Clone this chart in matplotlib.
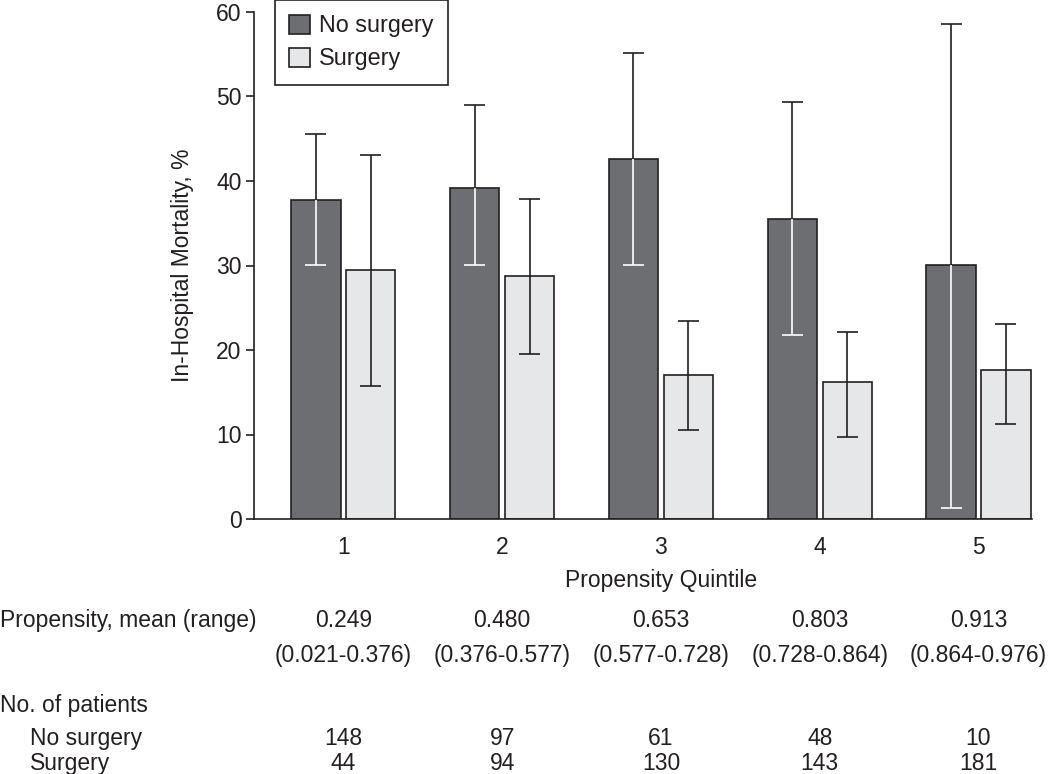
import matplotlib
matplotlib.use("Agg")
import matplotlib.pyplot as plt
import matplotlib.transforms as mtransforms
import numpy as np

plt.rcParams['font.family'] = ['Liberation Sans', 'DejaVu Sans']

# datos
quintiles = ["1", "2", "3", "4", "5"]
no_surg_mean = [37.8, 39.2, 42.6, 35.5, 30.1]
no_surg_low = [30.1, 30.1, 30.1, 21.8, 1.3]
no_surg_high = [45.6, 49.0, 55.2, 49.3, 58.6]
surg_mean = [29.5, 28.7, 17.0, 16.2, 17.6]
surg_low = [15.7, 19.5, 10.5, 9.7, 11.2]
surg_high = [43.1, 37.9, 23.4, 22.1, 23.1]

prop_mean = ["0.249", "0.480", "0.653", "0.803", "0.913"]
prop_range = ["(0.021-0.376)", "(0.376-0.577)", "(0.577-0.728)", "(0.728-0.864)", "(0.864-0.976)"]
n_no_surg = ["148", "97", "61", "48", "10"]
n_surg = ["44", "94", "130", "143", "181"]

dark = "#6d6e71"
light = "#e6e7e8"
ink = "#231f20"
fs = 16.5

fig = plt.figure(figsize=(10.5, 7.74), dpi=100)
ax = fig.add_axes([254 / 1050, 1 - 519 / 774, (1032 - 254) / 1050, (519 - 12) / 774])

x = np.arange(1, len(quintiles) + 1)
off = 0.173
w = 0.31
cap = 0.066
lw = 1.2

b1 = ax.bar(x - off, no_surg_mean, w, color=dark, edgecolor=ink, linewidth=lw, label="No surgery", zorder=2)
b2 = ax.bar(x + off, surg_mean, w, color=light, edgecolor=ink, linewidth=lw, label="Surgery", zorder=2)

# barras de error: parte dentro de la barra oscura en blanco
xs = x - off
ax.vlines(xs, no_surg_mean, no_surg_high, color=ink, lw=lw, zorder=3)
ax.hlines(no_surg_high, xs - cap, xs + cap, color=ink, lw=lw, zorder=3)
ax.vlines(xs, no_surg_low, no_surg_mean, color="white", lw=lw, zorder=3)
ax.hlines(no_surg_low, xs - cap, xs + cap, color="white", lw=lw, zorder=3)

xs2 = x + off
ax.vlines(xs2, surg_low, surg_high, color=ink, lw=lw, zorder=3)
ax.hlines(surg_high, xs2 - cap, xs2 + cap, color=ink, lw=lw, zorder=3)
ax.hlines(surg_low, xs2 - cap, xs2 + cap, color=ink, lw=lw, zorder=3)

ax.set_xlim(0.437, 5.337)
ax.set_ylim(0, 60)
ax.set_yticks([0, 10, 20, 30, 40, 50, 60])
ax.set_xticks(x)
ax.set_xticklabels(quintiles)
for s in ["top", "right"]:
    ax.spines[s].set_visible(False)
for s in ["left", "bottom"]:
    ax.spines[s].set_color(ink)
    ax.spines[s].set_linewidth(lw)
ax.tick_params(axis="y", length=6, width=lw, color=ink, labelsize=fs, labelcolor=ink, pad=3)
ax.tick_params(axis="x", length=0, labelsize=fs, labelcolor=ink, pad=12)
ax.set_ylabel("In-Hospital Mortality, %", fontsize=fs, color=ink, labelpad=16)

# texto de la tabla debajo
tr = mtransforms.blended_transform_factory(ax.transData, fig.transFigure)
def fy(px):
    return 1 - px / 774

ax.text(3, fy(587), "Propensity Quintile", transform=tr, ha="center", va="baseline", fontsize=fs, color=ink)
fig.text(0.0, fy(627), "Propensity, mean (range)", ha="left", va="baseline", fontsize=fs, color=ink)
fig.text(0.0, fy(712), "No. of patients", ha="left", va="baseline", fontsize=fs, color=ink)
fig.text(30 / 1050, fy(745), "No surgery", ha="left", va="baseline", fontsize=fs, color=ink)
fig.text(30 / 1050, fy(770), "Surgery", ha="left", va="baseline", fontsize=fs, color=ink)
for i, xi in enumerate(x):
    ax.text(xi, fy(627), prop_mean[i], transform=tr, ha="center", va="baseline", fontsize=fs, color=ink)
    ax.text(xi, fy(662), prop_range[i], transform=tr, ha="center", va="baseline", fontsize=fs, color=ink)
    ax.text(xi, fy(745), n_no_surg[i], transform=tr, ha="center", va="baseline", fontsize=fs, color=ink)
    ax.text(xi, fy(770), n_surg[i], transform=tr, ha="center", va="baseline", fontsize=fs, color=ink)

leg = fig.legend(handles=[b1, b2], loc="upper left", bbox_to_anchor=(275 / 1050, 1.0),
                 fontsize=16.8, frameon=True, fancybox=False, framealpha=1,
                 handlelength=0.9, handleheight=0.9, handletextpad=0.35,
                 labelspacing=0.42, borderpad=0.62, borderaxespad=0)
leg.get_frame().set_edgecolor(ink)
leg.get_frame().set_linewidth(lw)
for t in leg.get_texts():
    t.set_color(ink)

fig.savefig("out.png", dpi=100)
